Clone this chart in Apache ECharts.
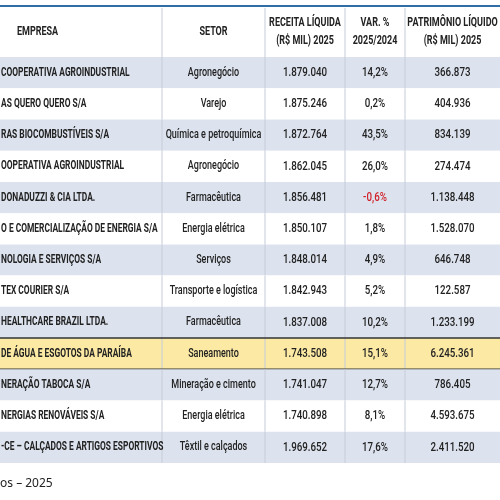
<!DOCTYPE html><html><head><meta charset="utf-8"><script src="https://cdn.jsdelivr.net/npm/echarts@6/dist/echarts.min.js"></script>
<style>html,body{margin:0;background:#fff}#c{width:500px;height:500px}</style></head><body><div id="c"></div><script>
const empresas=["COOPERATIVA AGROINDUSTRIAL","AS QUERO QUERO S/A","RAS BIOCOMBUSTÍVEIS S/A","OOPERATIVA AGROINDUSTRIAL","DONADUZZI & CIA LTDA.","O E COMERCIALIZAÇÃO DE ENERGIA S/A","NOLOGIA E SERVIÇOS S/A","TEX COURIER S/A","HEALTHCARE BRAZIL LTDA.","DE ÁGUA E ESGOTOS DA PARAÍBA","NERAÇÃO TABOCA S/A","NERGIAS RENOVÁVEIS S/A","-CE – CALÇADOS E ARTIGOS ESPORTIVOS"];
const setores=["Agronegócio","Varejo","Química e petroquímica","Agronegócio","Farmacêutica","Energia elétrica","Serviços","Transporte e logística","Farmacêutica","Saneamento","Mineração e cimento","Energia elétrica","Têxtil e calçados"];
const receita=["1.879.040","1.875.246","1.872.764","1.862.045","1.856.481","1.850.107","1.848.014","1.842.943","1.837.008","1.743.508","1.741.047","1.740.898","1.969.652"];
const variacao=["14,2%","0,2%","43,5%","26,0%","-0,6%","1,8%","4,9%","5,2%","10,2%","15,1%","12,7%","8,1%","17,6%"];
const patrimonio=["366.873","404.936","834.139","274.474","1.138.448","1.528.070","646.748","122.587","1.233.199","6.245.361","786.405","4.593.675","2.411.520"];
const headers=["EMPRESA","SETOR","RECEITA LÍQUIDA\n(R$ MIL) 2025","VAR. %\n2025/2024","PATRIMÔNIO LÍQUIDO\n(R$ MIL) 2025"];
const highlightRow=9;
const colX=[0,162,265,345,405,500];
const F='Roboto,sans-serif';
function T(text,x,y,align,font,fill,sx){return {type:'text',x:x,y:y,scaleX:sx,style:{text:text,x:0,y:0,align:align,verticalAlign:'middle',font:font,fill:fill}};}
const rows=empresas.map((e,i)=>[i,e,setores[i],receita[i],variacao[i],patrimonio[i]]);
const chart=echarts.init(document.getElementById('c'));
chart.setOption({animation:false,
grid:{left:0,right:0,top:57,bottom:37},
xAxis:{type:'value',min:0,max:500,show:false},
yAxis:{type:'category',data:empresas.map((_,i)=>i),inverse:true,show:false},
series:[{type:'custom',data:rows,renderItem:(p,api)=>{
 const i=api.value(0);const yc=api.coord([0,i])[1];const h=api.size([0,1])[1];
 const y0=yc-h/2;const hl=i===highlightRow;
 const fill=hl?'#fbe9a4':(i%2===0?'#dde3ee':'#ffffff');
 const ch=[{type:'rect',shape:{x:0,y:y0,width:500,height:h},style:{fill:fill}}];
 for(let k=1;k<5;k++)ch.push({type:'line',shape:{x1:colX[k],y1:y0,x2:colX[k],y2:y0+h},style:{stroke:'#c5ccd8',lineWidth:1}});
 if(hl){ch.push({type:'line',shape:{x1:0,y1:y0,x2:500,y2:y0},style:{stroke:'#333',lineWidth:1.5}});ch.push({type:'line',shape:{x1:0,y1:y0+h,x2:500,y2:y0+h},style:{stroke:'#333',lineWidth:1.5}});}
 const r=rows[i];
 ch.push(T(r[1],1,yc,'left','bold 12px '+F,'#222',0.7));
 for(let k=2;k<=5;k++){const v=r[k];ch.push(T(v,(colX[k-1]+colX[k])/2,yc,'center',(k===2?'500 12px ':'500 13px ')+F,(k===4&&v.startsWith('-'))?'#d0202a':'#222',0.75));}
 return {type:'group',children:ch};
}}],
graphic:[
 {type:'rect',shape:{x:0,y:5,width:500,height:2},style:{fill:'#2f6ea8'}},
 ...headers.map((t,k)=>({type:'text',x:k===0?17:(colX[k]+colX[k+1])/2,y:32,scaleX:0.75,style:{text:t,x:0,y:0,align:k===0?'left':'center',verticalAlign:'middle',font:'bold 12px '+F,fill:'#222',lineHeight:18}})),
 ...[1,2,3,4].map(k=>({type:'line',shape:{x1:colX[k],y1:8,x2:colX[k],y2:57},style:{stroke:'#c5ccd8'}})),
 {type:'text',style:{text:'os – 2025',x:0,y:484,verticalAlign:'middle',font:'12px "Noto Sans",sans-serif',fill:'#222'}}
]});
</script></body></html>
